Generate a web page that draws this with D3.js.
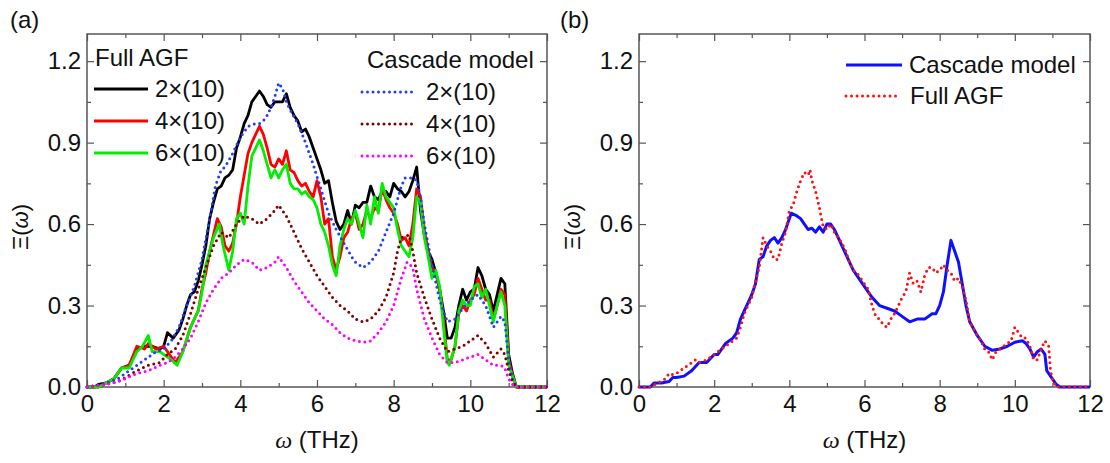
<!DOCTYPE html>
<html><head><meta charset="utf-8">
<script src="https://cdn.jsdelivr.net/npm/d3@7"></script>
<style>
html,body{margin:0;padding:0;background:#fff;}
svg text{font-family:"Liberation Sans",Arial,sans-serif;fill:#111;}
</style></head>
<body><svg id="c" width="1110" height="463"></svg>
<script>
// ---------- data ----------
const xTicks = [0, 2, 4, 6, 8, 10, 12];
const yTicks = [0.0, 0.3, 0.6, 0.9, 1.2];
const panelLabels = ["(a)", "(b)"];
const legendA_left = ["2×(10)", "4×(10)", "6×(10)"];
const legendA_right = ["2×(10)", "4×(10)", "6×(10)"];
const legendB = ["Cascade model", "Full AGF"];

// Panel (a) Full AGF
const agf2 = [[0,0],[0.2,0],[0.3,0.01],[0.5,0.015],[0.7,0.03],[0.9,0.07],[1.1,0.08],[1.3,0.14],[1.5,0.15],[1.7,0.15],[1.9,0.14],[2.0,0.15],[2.1,0.2],[2.25,0.18],[2.4,0.21],[2.5,0.25],[2.6,0.3],[2.7,0.34],[2.8,0.35],[2.9,0.39],[3.0,0.45],[3.1,0.52],[3.2,0.62],[3.3,0.68],[3.4,0.73],[3.5,0.74],[3.6,0.77],[3.7,0.78],[3.8,0.8],[3.9,0.88],[4.0,0.92],[4.1,0.97],[4.2,1.0],[4.3,1.05],[4.4,1.07],[4.5,1.09],[4.6,1.07],[4.7,1.04],[4.8,1.03],[4.9,1.05],[5.0,1.05],[5.1,1.05],[5.2,1.08],[5.3,1.03],[5.4,1.0],[5.5,0.98],[5.6,0.94],[5.7,0.95],[5.8,0.92],[5.9,0.88],[6.0,0.84],[6.1,0.8],[6.2,0.75],[6.3,0.76],[6.4,0.68],[6.5,0.61],[6.6,0.58],[6.7,0.6],[6.8,0.65],[6.9,0.6],[7.0,0.67],[7.1,0.66],[7.2,0.68],[7.3,0.68],[7.4,0.74],[7.5,0.7],[7.6,0.69],[7.7,0.72],[7.8,0.72],[7.9,0.7],[8.0,0.75],[8.1,0.73],[8.2,0.72],[8.3,0.7],[8.4,0.72],[8.5,0.76],[8.6,0.81],[8.7,0.65],[8.8,0.56],[8.9,0.5],[9.0,0.47],[9.1,0.42],[9.2,0.36],[9.3,0.28],[9.4,0.18],[9.5,0.18],[9.6,0.22],[9.7,0.3],[9.8,0.36],[9.9,0.32],[10.0,0.35],[10.1,0.36],[10.2,0.44],[10.3,0.41],[10.4,0.36],[10.5,0.34],[10.6,0.28],[10.7,0.34],[10.8,0.4],[10.9,0.38],[11.0,0.12],[11.1,0.05],[11.2,0],[12,0]];
const agf4 = [[0,0],[0.3,0],[0.5,0.015],[0.7,0.03],[0.9,0.07],[1.1,0.08],[1.3,0.15],[1.5,0.14],[1.6,0.16],[1.8,0.14],[2.0,0.15],[2.2,0.11],[2.3,0.09],[2.5,0.13],[2.7,0.22],[2.9,0.28],[3.0,0.36],[3.1,0.42],[3.2,0.5],[3.3,0.56],[3.4,0.62],[3.5,0.59],[3.6,0.52],[3.7,0.5],[3.8,0.53],[3.9,0.6],[4.0,0.7],[4.1,0.78],[4.2,0.86],[4.3,0.9],[4.4,0.93],[4.5,0.96],[4.6,0.93],[4.7,0.88],[4.8,0.82],[4.9,0.81],[5.0,0.84],[5.1,0.82],[5.2,0.87],[5.3,0.8],[5.4,0.79],[5.5,0.76],[5.6,0.74],[5.7,0.75],[5.8,0.72],[5.9,0.7],[6.0,0.76],[6.1,0.7],[6.2,0.6],[6.3,0.62],[6.4,0.48],[6.5,0.43],[6.6,0.48],[6.7,0.55],[6.8,0.57],[6.9,0.62],[7.0,0.64],[7.1,0.58],[7.2,0.6],[7.3,0.65],[7.4,0.62],[7.5,0.66],[7.6,0.65],[7.7,0.73],[7.8,0.69],[7.9,0.66],[8.0,0.64],[8.1,0.6],[8.2,0.54],[8.3,0.55],[8.4,0.52],[8.5,0.6],[8.6,0.73],[8.7,0.7],[8.8,0.58],[8.9,0.5],[9.0,0.44],[9.1,0.42],[9.2,0.36],[9.3,0.25],[9.4,0.1],[9.5,0.1],[9.6,0.15],[9.7,0.27],[9.8,0.3],[9.9,0.28],[10.0,0.32],[10.1,0.34],[10.2,0.4],[10.3,0.36],[10.4,0.32],[10.5,0.32],[10.6,0.25],[10.7,0.3],[10.8,0.36],[10.9,0.34],[11.0,0.1],[11.1,0.04],[11.2,0],[12,0]];
const agf6 = [[0,0],[0.3,0],[0.5,0.015],[0.7,0.03],[0.9,0.07],[1.1,0.07],[1.3,0.13],[1.45,0.15],[1.6,0.19],[1.7,0.13],[1.9,0.13],[2.0,0.12],[2.2,0.1],[2.35,0.08],[2.5,0.13],[2.7,0.22],[2.9,0.28],[3.0,0.35],[3.1,0.45],[3.2,0.5],[3.3,0.55],[3.45,0.6],[3.55,0.52],[3.7,0.43],[3.8,0.5],[3.9,0.62],[4.0,0.64],[4.1,0.6],[4.2,0.74],[4.3,0.85],[4.4,0.88],[4.5,0.91],[4.6,0.87],[4.7,0.82],[4.8,0.77],[4.9,0.8],[5.0,0.77],[5.1,0.8],[5.2,0.82],[5.3,0.75],[5.4,0.73],[5.5,0.73],[5.6,0.71],[5.7,0.72],[5.8,0.7],[5.9,0.69],[6.0,0.66],[6.1,0.6],[6.2,0.57],[6.3,0.52],[6.4,0.45],[6.5,0.41],[6.6,0.52],[6.7,0.58],[6.8,0.62],[6.9,0.6],[7.0,0.65],[7.1,0.6],[7.2,0.55],[7.3,0.67],[7.4,0.6],[7.5,0.7],[7.6,0.64],[7.7,0.75],[7.8,0.7],[7.9,0.68],[8.0,0.66],[8.1,0.58],[8.2,0.52],[8.3,0.5],[8.4,0.48],[8.5,0.55],[8.6,0.7],[8.7,0.68],[8.8,0.55],[8.9,0.48],[9.0,0.4],[9.1,0.43],[9.2,0.37],[9.3,0.22],[9.4,0.09],[9.45,0.08],[9.6,0.15],[9.7,0.28],[9.8,0.32],[9.9,0.3],[10.0,0.3],[10.1,0.37],[10.2,0.38],[10.3,0.33],[10.4,0.36],[10.5,0.3],[10.6,0.24],[10.7,0.3],[10.8,0.35],[10.9,0.3],[11.0,0.08],[11.1,0.04],[11.2,0],[12,0]];
// Panel (a) Cascade model
const cas2 = [[0,0],[0.4,0.01],[0.8,0.03],[1.0,0.05],[1.2,0.07],[1.5,0.1],[1.8,0.13],[2.0,0.14],[2.2,0.17],[2.4,0.22],[2.6,0.3],[2.8,0.37],[3.0,0.47],[3.2,0.62],[3.35,0.74],[3.5,0.8],[3.6,0.81],[3.8,0.86],[4.0,0.92],[4.2,0.96],[4.4,0.97],[4.5,0.97],[4.6,0.98],[4.7,1.0],[4.8,1.03],[4.9,1.07],[5.0,1.12],[5.1,1.1],[5.2,1.05],[5.3,1.02],[5.5,0.97],[5.7,0.9],[5.9,0.82],[6.1,0.73],[6.3,0.64],[6.5,0.58],[6.7,0.53],[6.9,0.48],[7.0,0.46],[7.2,0.44],[7.4,0.46],[7.6,0.5],[7.8,0.57],[8.0,0.64],[8.2,0.74],[8.3,0.77],[8.5,0.77],[8.6,0.76],[8.7,0.7],[8.8,0.6],[9.0,0.45],[9.2,0.32],[9.4,0.24],[9.6,0.25],[9.8,0.29],[10.0,0.32],[10.2,0.34],[10.4,0.3],[10.6,0.22],[10.8,0.26],[10.9,0.24],[11.0,0.1],[11.1,0.03],[11.2,0],[12,0]];
const cas4 = [[0,0],[0.5,0.01],[0.8,0.02],[1.0,0.035],[1.3,0.06],[1.6,0.08],[1.9,0.09],[2.1,0.12],[2.3,0.14],[2.5,0.19],[2.7,0.27],[2.9,0.36],[3.1,0.44],[3.3,0.52],[3.5,0.57],[3.7,0.55],[3.9,0.6],[4.1,0.63],[4.3,0.62],[4.5,0.6],[4.7,0.62],[4.9,0.65],[5.0,0.67],[5.2,0.63],[5.4,0.57],[5.6,0.51],[5.8,0.46],[6.0,0.41],[6.2,0.37],[6.4,0.33],[6.6,0.3],[6.8,0.28],[7.0,0.25],[7.2,0.24],[7.4,0.25],[7.6,0.28],[7.8,0.33],[8.0,0.42],[8.1,0.5],[8.2,0.55],[8.4,0.56],[8.5,0.5],[8.6,0.42],[8.8,0.33],[9.0,0.25],[9.2,0.18],[9.4,0.13],[9.6,0.14],[9.8,0.15],[10.0,0.17],[10.2,0.19],[10.4,0.16],[10.6,0.11],[10.8,0.14],[10.9,0.12],[11.0,0.06],[11.1,0.02],[11.2,0],[12,0]];
const cas6 = [[0,0],[0.5,0.01],[0.8,0.02],[1.0,0.03],[1.3,0.05],[1.6,0.06],[1.9,0.08],[2.1,0.09],[2.3,0.11],[2.5,0.14],[2.7,0.18],[2.9,0.24],[3.1,0.31],[3.3,0.36],[3.5,0.4],[3.7,0.42],[3.9,0.45],[4.1,0.47],[4.3,0.46],[4.5,0.43],[4.7,0.44],[4.9,0.46],[5.0,0.48],[5.2,0.44],[5.4,0.39],[5.6,0.35],[5.8,0.31],[6.0,0.28],[6.2,0.25],[6.4,0.23],[6.6,0.2],[6.8,0.18],[7.0,0.17],[7.2,0.165],[7.4,0.17],[7.6,0.2],[7.8,0.24],[8.0,0.3],[8.2,0.4],[8.35,0.46],[8.5,0.44],[8.6,0.36],[8.8,0.25],[9.0,0.18],[9.2,0.12],[9.4,0.09],[9.6,0.09],[9.8,0.1],[10.0,0.11],[10.2,0.12],[10.4,0.1],[10.6,0.08],[10.8,0.08],[10.9,0.07],[11.0,0.03],[11.1,0.01],[11.2,0],[12,0]];
// Panel (b)
const bCascade = [[0,0],[0.3,0],[0.4,0.015],[0.6,0.015],[0.8,0.02],[0.9,0.035],[1.0,0.035],[1.2,0.04],[1.4,0.06],[1.6,0.09],[1.8,0.09],[2.0,0.12],[2.1,0.12],[2.3,0.16],[2.5,0.18],[2.6,0.2],[2.7,0.25],[2.8,0.28],[2.9,0.31],[3.0,0.34],[3.1,0.38],[3.2,0.47],[3.3,0.48],[3.4,0.52],[3.5,0.54],[3.6,0.55],[3.7,0.53],[3.8,0.55],[3.9,0.58],[4.0,0.62],[4.05,0.64],[4.2,0.63],[4.3,0.62],[4.4,0.6],[4.5,0.58],[4.6,0.585],[4.7,0.57],[4.8,0.59],[4.9,0.57],[5.0,0.6],[5.1,0.6],[5.2,0.58],[5.3,0.55],[5.4,0.52],[5.5,0.49],[5.6,0.46],[5.7,0.43],[5.8,0.41],[5.9,0.39],[6.0,0.37],[6.2,0.33],[6.4,0.3],[6.6,0.29],[6.8,0.28],[7.0,0.26],[7.2,0.24],[7.4,0.25],[7.6,0.25],[7.8,0.27],[7.9,0.27],[8.0,0.3],[8.1,0.35],[8.2,0.45],[8.3,0.54],[8.4,0.5],[8.5,0.46],[8.6,0.38],[8.7,0.3],[8.8,0.24],[9.0,0.19],[9.2,0.15],[9.4,0.135],[9.6,0.14],[9.8,0.15],[10.0,0.165],[10.2,0.17],[10.3,0.16],[10.4,0.14],[10.5,0.11],[10.6,0.13],[10.7,0.14],[10.8,0.12],[10.85,0.06],[10.95,0.04],[11.1,0.01],[11.2,0],[12,0]];
const bFullAGF = [[0,0],[0.3,0],[0.5,0.015],[0.7,0.03],[0.8,0.05],[0.9,0.045],[1.0,0.05],[1.2,0.07],[1.3,0.08],[1.5,0.1],[1.6,0.09],[1.8,0.1],[2.0,0.12],[2.2,0.14],[2.4,0.16],[2.6,0.18],[2.7,0.22],[2.8,0.27],[3.0,0.33],[3.1,0.39],[3.2,0.44],[3.3,0.55],[3.4,0.52],[3.5,0.5],[3.6,0.47],[3.7,0.47],[3.8,0.53],[3.9,0.57],[4.0,0.65],[4.1,0.67],[4.2,0.72],[4.3,0.76],[4.4,0.79],[4.5,0.78],[4.55,0.8],[4.6,0.76],[4.7,0.72],[4.8,0.66],[4.9,0.59],[5.0,0.58],[5.1,0.6],[5.2,0.57],[5.3,0.55],[5.4,0.53],[5.5,0.5],[5.6,0.46],[5.7,0.43],[5.8,0.42],[5.9,0.4],[6.0,0.38],[6.1,0.36],[6.2,0.3],[6.3,0.26],[6.4,0.25],[6.5,0.23],[6.6,0.22],[6.7,0.25],[6.8,0.27],[6.9,0.3],[7.0,0.33],[7.1,0.35],[7.2,0.42],[7.3,0.38],[7.4,0.39],[7.5,0.35],[7.6,0.41],[7.7,0.44],[7.8,0.44],[7.9,0.42],[8.0,0.43],[8.1,0.45],[8.2,0.43],[8.3,0.42],[8.4,0.39],[8.5,0.4],[8.6,0.37],[8.7,0.32],[8.8,0.24],[9.0,0.19],[9.1,0.17],[9.2,0.14],[9.3,0.13],[9.4,0.1],[9.5,0.13],[9.6,0.14],[9.8,0.16],[9.9,0.17],[10.0,0.22],[10.1,0.2],[10.2,0.18],[10.3,0.18],[10.4,0.15],[10.5,0.1],[10.6,0.1],[10.7,0.14],[10.8,0.17],[10.9,0.15],[10.95,0.06],[11.0,0.03],[11.1,0],[12,0]];

// ---------- drawing ----------
const svg = d3.select("#c");
const frameColor = "#555";
const panels = [
  {left:87, right:547, top:34, bottom:387, tag:panelLabels[0], tagX:10, ytX:21},
  {left:639, right:1090, top:34, bottom:387, tag:panelLabels[1], tagX:560, ytX:573}
];

function drawPanel(p){
  const x = d3.scaleLinear().domain([0,12]).range([p.left,p.right]);
  const y = d3.scaleLinear().domain([0,1.3]).range([p.bottom,p.top]);
  const g = svg.append("g");
  const minorX = d3.range(1,12,2);
  const minorY = d3.range(0.15,1.3,0.3);
  const fmt = d3.format(".1f");
  // axes with inward ticks
  const axB = d3.axisBottom(x).tickValues(xTicks).tickSizeInner(-7).tickSizeOuter(0).tickPadding(14);
  const axL = d3.axisLeft(y).tickValues(yTicks).tickFormat(fmt).tickSizeInner(-7).tickSizeOuter(0).tickPadding(14);
  const axT = d3.axisTop(x).tickValues(xTicks).tickSizeInner(-7).tickSizeOuter(0).tickFormat("");
  const axR = d3.axisRight(y).tickValues(yTicks).tickSizeInner(-7).tickSizeOuter(0).tickFormat("");
  const mB = d3.axisBottom(x).tickValues(minorX).tickSizeInner(-4).tickSizeOuter(0).tickFormat("");
  const mL = d3.axisLeft(y).tickValues(minorY).tickSizeInner(-4).tickSizeOuter(0).tickFormat("");
  const mT = d3.axisTop(x).tickValues(minorX).tickSizeInner(-4).tickSizeOuter(0).tickFormat("");
  const mR = d3.axisRight(y).tickValues(minorY).tickSizeInner(-4).tickSizeOuter(0).tickFormat("");
  const gb = g.append("g").attr("transform",`translate(0,${p.bottom})`).call(axB);
  const gl = g.append("g").attr("transform",`translate(${p.left},0)`).call(axL);
  g.append("g").attr("transform",`translate(0,${p.top})`).call(axT);
  g.append("g").attr("transform",`translate(${p.right},0)`).call(axR);
  g.append("g").attr("transform",`translate(0,${p.bottom})`).call(mB);
  g.append("g").attr("transform",`translate(${p.left},0)`).call(mL);
  g.append("g").attr("transform",`translate(0,${p.top})`).call(mT);
  g.append("g").attr("transform",`translate(${p.right},0)`).call(mR);
  g.selectAll(".domain").remove();
  g.selectAll(".tick line").attr("stroke",frameColor).attr("stroke-width",1.2);
  g.selectAll(".tick text").attr("font-size",24).attr("font-family","Liberation Sans, Arial, sans-serif").attr("fill","#111");
  gb.selectAll(".tick text").attr("dy","0.71em").attr("y",8);
  gl.selectAll(".tick text").attr("x",-6);
  g.append("rect").attr("x",p.left).attr("y",p.top).attr("width",p.right-p.left).attr("height",p.bottom-p.top)
    .attr("fill","none").attr("stroke",frameColor).attr("stroke-width",1.5);
  // panel tag
  svg.append("text").attr("x",p.tagX).attr("y",28).attr("font-size",24).text(p.tag);
  // x title
  const xt = svg.append("text").attr("x",(p.left+p.right)/2).attr("y",448).attr("text-anchor","middle").attr("font-size",24);
  xt.append("tspan").attr("font-family","Liberation Serif, Times New Roman, serif").attr("font-style","italic").text("ω");
  xt.append("tspan").text(" (THz)");
  // y title
  const yt = svg.append("text").attr("transform",`translate(${p.ytX+7},227) rotate(-90)`).attr("text-anchor","middle")
    .attr("font-size",22).attr("font-family","Liberation Serif, Times New Roman, serif");
  yt.append("tspan").text("Ξ(");
  yt.append("tspan").attr("font-style","italic").text("ω");
  yt.append("tspan").text(")");
  return {x,y,g};
}

function drawLine(P, data, color, dotted, width){
  const line = d3.line().x(d=>P.x(d[0])).y(d=>P.y(d[1]));
  const path = svg.append("path").datum(data).attr("d",line).attr("fill","none")
    .attr("stroke",color).attr("stroke-width",width).attr("stroke-linejoin","round");
  if(dotted) path.attr("stroke-dasharray","0 5.5").attr("stroke-linecap","round");
}

const A = drawPanel(panels[0]);
const B = drawPanel(panels[1]);

const colA = ["#000000","#ff0000","#00ee00"];
const colC = ["#1f3fff","#800000","#ff00ff"];
drawLine(A, agf2, colA[0], false, 2.8);
drawLine(A, agf4, colA[1], false, 2.8);
drawLine(A, agf6, colA[2], false, 2.8);
drawLine(A, cas2, colC[0], true, 3);
drawLine(A, cas4, colC[1], true, 3);
drawLine(A, cas6, colC[2], true, 3);

drawLine(B, bCascade, "#1010ff", false, 3);
drawLine(B, bFullAGF, "#ff1010", true, 3);

// legends (a)
function legLine(x1,x2,yy,color,dotted,w){
  const l = svg.append("line").attr("x1",x1).attr("x2",x2).attr("y1",yy).attr("y2",yy).attr("stroke",color).attr("stroke-width",w);
  if(dotted) l.attr("stroke-dasharray","0 5.5").attr("stroke-linecap","round");
}
svg.append("text").attr("x",95).attr("y",66).attr("font-size",24).text("Full AGF");
svg.append("text").attr("x",367).attr("y",68).attr("font-size",24).text("Cascade model");
legendA_left.forEach((t,i)=>{
  const yy = 89 + i*32;
  legLine(94,148,yy,colA[i],false,3);
  svg.append("text").attr("x",155).attr("y",yy+8).attr("font-size",24).text(t);
});
legendA_right.forEach((t,i)=>{
  const yy = 92 + i*32;
  legLine(362,417,yy,colC[i],true,3);
  svg.append("text").attr("x",426).attr("y",yy+8).attr("font-size",24).text(t);
});
// legend (b)
legLine(846,902,65,"#1010ff",false,3);
svg.append("text").attr("x",909).attr("y",73).attr("font-size",24).text(legendB[0]);
legLine(846,899,96,"#ff1010",true,3);
svg.append("text").attr("x",910).attr("y",104).attr("font-size",24).text(legendB[1]);
</script></body></html>
